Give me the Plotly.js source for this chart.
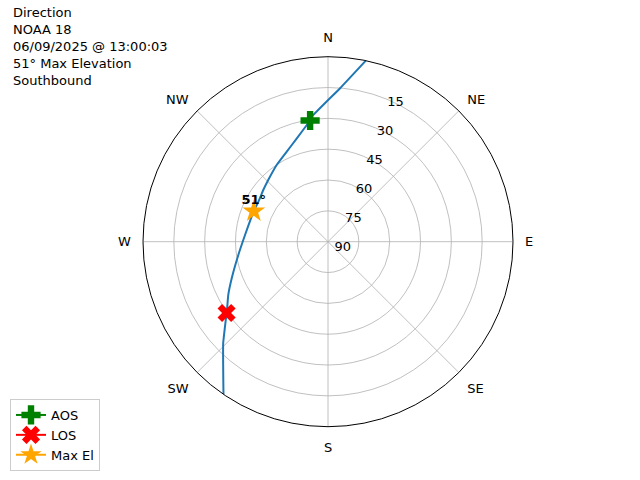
<!DOCTYPE html>
<html>
<head>
<meta charset="utf-8">
<script src="https://cdn.plot.ly/plotly-3.0.1.min.js"></script>
<style>html,body{margin:0;padding:0;background:#fff;}#chart{width:640px;height:480px;}</style>
</head>
<body>
<div id="chart"></div>
<script>
// Pass track (azimuth in degrees, elevation in degrees)
const trackAz = [11.8, 4.5, 352.6, 351.6, 349.7, 343.2, 335.4, 326.2, 315.9, 308.6, 301.5, 292.3, 285.9, 274.6, 261.6, 249.2, 241.9, 237.2, 234.9, 225.9, 214.4];
const trackEl = [0.0, 15.1, 28.7, 30.4, 32.3, 37.5, 41.8, 45.1, 48.2, 49.7, 50.8, 51.0, 50.8, 49.5, 45.9, 39.9, 35.0, 31.7, 29.7, 19.0, 0.0];
const aosAz = [351.6], aosEl = [30.4];
const losAz = [234.9], losEl = [29.7];
const maxAz = [292.3], maxEl = [51.0];
const maxLabel = ['51°'];
const compassVals = [0, 45, 90, 135, 180, 225, 270, 315];
const compassText = ['N', 'NE', 'E', 'SE', 'S', 'SW', 'W', 'NW'];
const radialTicks = [15, 30, 45, 60, 75, 90];
const titleLines = ['Direction', 'NOAA 18', '06/09/2025 @ 13:00:03', '51° Max Elevation', 'Southbound'];

const font = 'DejaVu Sans, sans-serif';
const traces = [
  {type: 'scatterpolar', mode: 'lines', theta: trackAz, r: trackEl, line: {color: '#1f77b4', width: 2, shape: 'spline', smoothing: 0.35}, showlegend: false, hoverinfo: 'skip'},
  {type: 'scatterpolar', mode: 'lines+markers', name: 'AOS', theta: aosAz, r: aosEl, line: {color: 'green', width: 2}, marker: {symbol: 'cross', size: 16, color: 'green'}},
  {type: 'scatterpolar', mode: 'lines+markers', name: 'LOS', theta: losAz, r: losEl, line: {color: 'red', width: 2}, marker: {symbol: 'x', size: 16, color: 'red'}},
  {type: 'scatterpolar', mode: 'lines+markers', name: 'Max El', theta: maxAz, r: maxEl, line: {color: 'orange', width: 2}, marker: {symbol: 'star', size: 17, color: 'orange'}},
  {type: 'scatterpolar', mode: 'markers+text', theta: maxAz, r: maxEl, text: maxLabel, textposition: 'top center', textfont: {family: font, size: 13, color: 'black', weight: 'bold'}, marker: {size: 5, color: 'rgba(0,0,0,0)'}, showlegend: false, hoverinfo: 'skip'}
];

const layout = {
  width: 640, height: 480,
  margin: {l: 0, r: 0, t: 0, b: 0},
  paper_bgcolor: '#fff',
  font: {family: font, size: 13, color: '#000'},
  showlegend: true,
  legend: {x: 10/640, y: 9/480, xanchor: 'left', yanchor: 'bottom', bordercolor: '#cccccc', borderwidth: 1, bgcolor: 'rgba(255,255,255,0.8)', font: {family: font, size: 13}, tracegroupgap: 0},
  polar: {
    domain: {x: [143/640, 513/640], y: [1 - 426.7/480, 1 - 56.7/480]},
    bgcolor: '#fff',
    angularaxis: {rotation: 90, direction: 'clockwise', tickmode: 'array', tickvals: compassVals, ticktext: compassText,
      showline: true, linecolor: '#000', linewidth: 1, gridcolor: '#b0b0b0', gridwidth: 0.8, ticks: 'outside', ticklen: 9, tickcolor: 'rgba(0,0,0,0)', tickfont: {size: 13, color: '#000'}},
    radialaxis: {range: [90, 0], tickmode: 'array', tickvals: radialTicks, ticktext: radialTicks.map(String), angle: 70, side: 'clockwise', tickangle: 70,
      showline: false, gridcolor: '#b0b0b0', gridwidth: 0.8, ticks: '', tickfont: {size: 13, color: '#000'}}
  },
  annotations: [{xref: 'paper', yref: 'paper', x: 11/640, y: 1 - 3/480, xanchor: 'left', yanchor: 'top', align: 'left', showarrow: false,
    text: titleLines.join('<br>'), font: {family: font, size: 13, color: '#000'}}]
};

Plotly.newPlot('chart', traces, layout, {displayModeBar: false, staticPlot: true});
</script>
</body>
</html>
